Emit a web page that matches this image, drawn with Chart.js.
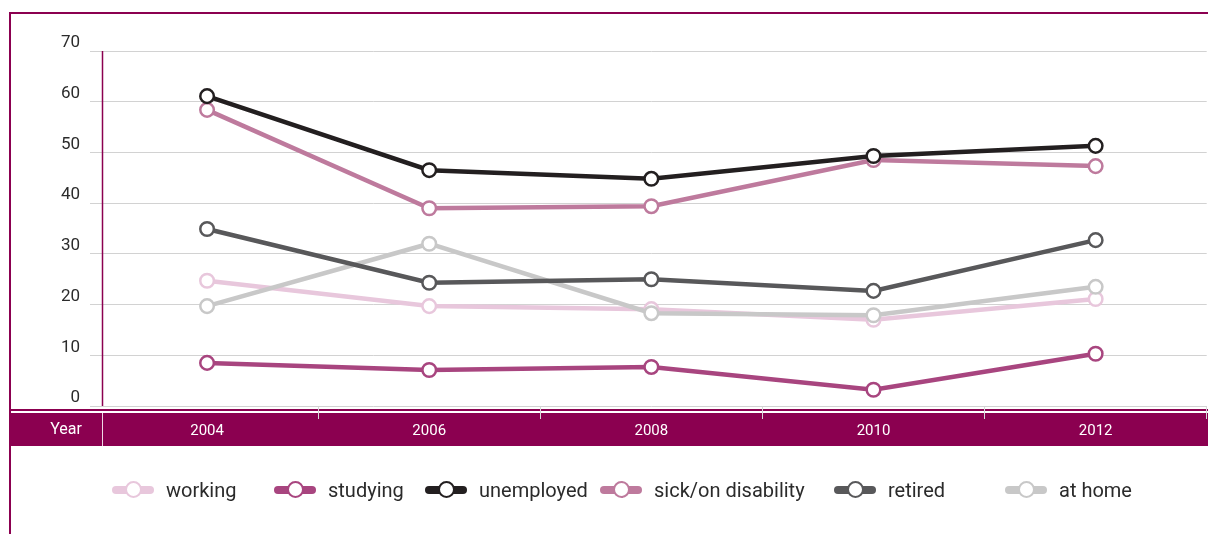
<!DOCTYPE html>
<html>
<head>
<meta charset="utf-8">
<script src="https://cdn.jsdelivr.net/npm/chart.js@4"></script>
<style>
  html, body { margin: 0; padding: 0; background: #fff; overflow: hidden; }
  #wrap { position: relative; width: 1208px; height: 534px; overflow: hidden; }
  #wrap canvas { position: absolute; left: 0; top: 0; }
  .leg { position: absolute; top: 476px; height: 28px; display: flex; align-items: center;
         font-family: Roboto, "DejaVu Sans Condensed", sans-serif; font-size: 20px; color: #2b2b2b; }
  .icon { position: relative; width: 42px; height: 8px; border-radius: 4px; margin-right: 12px; }
  .icon span { position: absolute; left: 13px; top: -5px; width: 13px; height: 13px; border-radius: 50%;
               background: #fff; border: 2.5px solid; box-sizing: content-box; }
</style>
</head>
<body>
<div id="wrap">
  <canvas id="lineChart" width="1216" height="534" style="width:1216px;height:534px"></canvas>
</div>
<script>
const years = ['2004', '2006', '2008', '2010', '2012'];
const yTicks = [0, 10, 20, 30, 40, 50, 60, 70];

const working = [24.7, 19.7, 19.1, 17.0, 21.1];
const studying = [8.5, 7.1, 7.7, 3.2, 10.3];
const unemployed = [61.1, 46.5, 44.8, 49.3, 51.3];
const sick = [58.4, 39.0, 39.4, 48.5, 47.3];
const retired = [34.9, 24.3, 25.0, 22.7, 32.7];
const atHome = [19.7, 32.0, 18.3, 17.9, 23.5];

const seriesNames = ['working', 'studying', 'unemployed', 'sick/on disability', 'retired', 'at home'];
const seriesColors = ['#e8c7dc', '#a8457f', '#231f20', '#be7a9d', '#58585a', '#c8c8c8'];
const seriesData = [working, studying, unemployed, sick, retired, atHome];
// draw order (lower = on top)
const seriesOrder = [6, 1, 2, 3, 4, 5];
// legend left positions
const legendLeft = [112, 274, 425, 600, 834, 1005];

const frameColor = '#8b0050';
const font = 'Roboto, "DejaVu Sans Condensed", sans-serif';

const decor = {
    id: 'decor',
    beforeDraw(chart) {
        const c = chart.ctx;
        const a = chart.chartArea;
        c.save();
        // frame
        c.strokeStyle = frameColor;
        c.lineWidth = 2;
        c.beginPath();
        c.moveTo(10, 534);
        c.lineTo(10, 13);
        c.lineTo(1208, 13);
        c.stroke();
        // year band
        c.fillStyle = frameColor;
        c.fillRect(9, a.bottom + 7, 1200, 33);
        c.fillRect(9, a.bottom + 3, 1200, 2);
        c.fillStyle = '#fff';
        c.font = '16px ' + font;
        c.textAlign = 'center';
        c.textBaseline = 'middle';
        c.fillText('Year', 66, a.bottom + 24);
        c.restore();
    },
    afterDraw(chart) {
        const c = chart.ctx;
        const a = chart.chartArea;
        c.save();
        c.strokeStyle = 'rgba(255,255,255,0.85)';
        c.lineWidth = 1;
        c.beginPath();
        c.moveTo(a.left + 6.5, a.bottom + 7);
        c.lineTo(a.left + 6.5, a.bottom + 40);
        c.stroke();
        // y axis line
        c.strokeStyle = frameColor;
        c.lineWidth = 1.5;
        c.beginPath();
        c.moveTo(a.left + 6.5, a.top);
        c.lineTo(a.left + 6.5, a.bottom);
        c.stroke();
        c.restore();
    }
};

new Chart(document.getElementById('lineChart').getContext('2d'), {
    type: 'line',
    data: {
        labels: years,
        datasets: seriesNames.map((name, i) => ({
            label: name,
            data: seriesData[i],
            borderColor: seriesColors[i],
            backgroundColor: '#fff',
            borderWidth: 4.5,
            pointRadius: 6.8,
            pointBorderWidth: 2.5,
            pointBackgroundColor: '#fff',
            pointBorderColor: seriesColors[i],
            order: seriesOrder[i],
            tension: 0
        }))
    },
    options: {
        responsive: false,
        animation: false,
        layout: { padding: { top: 51, right: 0, left: 0, bottom: 0 } },
        plugins: {
            legend: { display: false },
            tooltip: { enabled: false }
        },
        scales: {
            x: {
                offset: true,
                afterFit(scale) { scale.height = 128; },
                grid: {
                    display: true,
                    drawOnChartArea: false,
                    drawTicks: true,
                    tickLength: 13,
                    color: ctx => ctx.index === 0 ? 'rgba(0,0,0,0)' : '#d8d8d8',
                    offset: true
                },
                border: { display: false },
                ticks: {
                    color: '#fff',
                    padding: 3,
                    font: { family: font, size: 15 }
                }
            },
            y: {
                min: 0,
                max: 70,
                afterFit(scale) { scale.width = 96; },
                afterBuildTicks(scale) { scale.ticks = yTicks.map(v => ({ value: v })); },
                grid: {
                    color: '#d2d2d2',
                    lineWidth: 1,
                    drawTicks: true,
                    tickLength: 6
                },
                border: { display: false },
                ticks: {
                    color: '#2b2b2b',
                    padding: 10,
                    labelOffset: -8,
                    font: { family: font, size: 17 }
                }
            }
        }
    },
    plugins: [decor]
});

// legend
const wrap = document.getElementById('wrap');
seriesNames.forEach((name, i) => {
    const item = document.createElement('div');
    item.className = 'leg';
    item.style.left = legendLeft[i] + 'px';
    item.innerHTML = '<div class="icon" style="background:' + seriesColors[i] + '"><span style="border-color:' +
        seriesColors[i] + '"></span></div>' + name;
    wrap.appendChild(item);
});
</script>
</body>
</html>
